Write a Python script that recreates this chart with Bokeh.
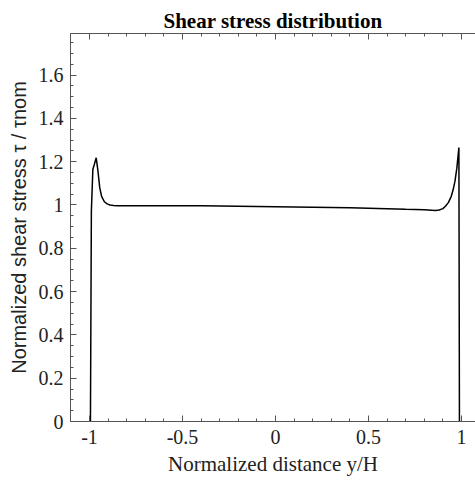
from bokeh.plotting import figure
from bokeh.models import Range1d, LinearAxis, FixedTicker
from bokeh.embed import file_html
from bokeh.resources import INLINE

# ---- data ----
x_pos = [-0.995, -0.99, -0.982, -0.975, -0.964, -0.955, -0.945, -0.935, -0.92,
         -0.905, -0.89, -0.87, -0.85, -0.8, -0.4, 0.0, 0.4, 0.7, 0.8, 0.84,
         0.86, 0.88, 0.9, 0.915, 0.93, 0.945, 0.955, 0.965, 0.975, 0.982,
         0.986, 0.989]
tau_ratio = [0.0, 0.97, 1.165, 1.185, 1.218, 1.16, 1.08, 1.04, 1.015,
             1.005, 1.0, 0.998, 0.997, 0.997, 0.996, 0.992, 0.987, 0.98, 0.978, 0.976,
             0.975, 0.977, 0.983, 0.995, 1.012, 1.04, 1.07, 1.11, 1.17, 1.23,
             1.265, 0.0]

x_ticks = [-1, -0.5, 0, 0.5, 1]
x_tick_labels = ["-1", "-0.5", "0", "0.5", "1"]
y_ticks = [0, 0.2, 0.4, 0.6, 0.8, 1, 1.2, 1.4, 1.6]
y_tick_labels = ["0", "0.2", "0.4", "0.6", "0.8", "1", "1.2", "1.4", "1.6"]
x_minor = [round(-1.1 + 0.1 * i, 2) for i in range(23)]
y_minor = [round(0.05 * i, 2) for i in range(36)]

SERIF = "Liberation Serif"
SANS = "Liberation Sans"
AX = "#555555"

p = figure(width=475, height=482, output_backend="svg", toolbar_location=None,
           x_range=Range1d(-1.1022, 1.0753), y_range=Range1d(0, 1.792),
           x_axis_location=None, y_axis_location=None,
           min_border_left=70, min_border_right=0, min_border_top=33,
           min_border_bottom=61, title="Shear stress distribution")
p.title.align = "center"
p.title.text_font = SERIF
p.title.text_font_size = "21px"
p.title.text_font_style = "bold"
p.title.text_color = "#000000"
p.title.standoff = 1

p.grid.visible = False
p.outline_line_color = None
p.background_fill_color = "white"
p.border_fill_color = "white"

p.line(x_pos, tau_ratio, line_color="black", line_width=1.5)

bottom = LinearAxis(ticker=FixedTicker(ticks=x_ticks, minor_ticks=x_minor),
                    major_label_overrides=dict(zip(x_ticks, x_tick_labels)))
left = LinearAxis(ticker=FixedTicker(ticks=y_ticks, minor_ticks=y_minor),
                  major_label_overrides=dict(zip(y_ticks, y_tick_labels)))
top = LinearAxis(ticker=FixedTicker(ticks=x_ticks, minor_ticks=x_minor),
                 major_label_overrides=dict(zip(x_ticks, [""] * len(x_ticks))))
p.add_layout(bottom, "below")
p.add_layout(left, "left")
p.add_layout(top, "above")

for ax in [bottom, left, top]:
    ax.axis_line_color = AX
    ax.major_tick_line_color = AX
    ax.minor_tick_line_color = AX
    ax.major_tick_in = 6
    ax.major_tick_out = 0
    ax.minor_tick_in = 3
    ax.minor_tick_out = 0
    ax.major_label_text_font = SERIF
    ax.major_label_text_font_size = "20px"
    ax.major_label_text_color = "#222222"
    ax.axis_label_text_font_style = "normal"
    ax.axis_label_text_color = "#222222"

top.major_label_standoff = 0

bottom.axis_label = "Normalized distance y/H"
bottom.axis_label_text_font = SERIF
bottom.axis_label_text_font_size = "21px"
bottom.major_label_standoff = 8
bottom.axis_label_standoff = 5

left.axis_label = "Normalized shear stress \u03c4 / \u03c4nom"
left.axis_label_text_font = SANS
left.axis_label_text_font_size = "20px"
left.major_label_standoff = 7
left.axis_label_standoff = 6

open("out.html", "w").write(file_html(p, INLINE))
